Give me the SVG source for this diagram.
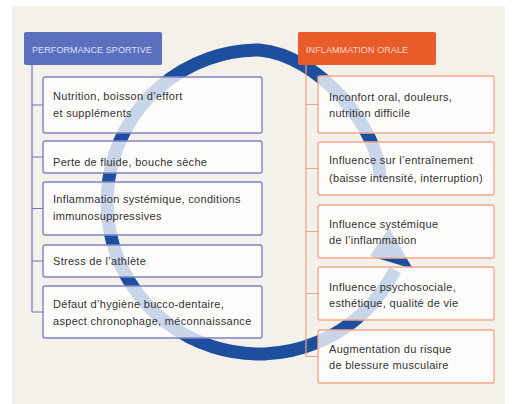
<svg xmlns="http://www.w3.org/2000/svg" width="513" height="404" viewBox="0 0 513 404">
<style>
.bg{fill:#f4f1eb}
.lbox{fill:#ffffff;fill-opacity:0.76;stroke:#7e84c4;stroke-width:1.4}
.rbox{fill:#ffffff;fill-opacity:0.76;stroke:#f2a88a;stroke-width:1.4}
.t{font-family:"Liberation Sans",Arial,sans-serif;font-size:11px;letter-spacing:0.3px;fill:#333333}
.h{font-family:"Liberation Sans",Arial,sans-serif;font-size:9px;letter-spacing:0.1px}
.ll{stroke:#6c74bd;stroke-width:1.2;fill:none}
.rl{stroke:#f0a282;stroke-width:1.2;fill:none}
.ring{stroke:#1e4f9f;stroke-width:13;fill:none}
</style>
<rect class="bg" x="12" y="6" width="493" height="398"/>
<g id="connectors">
  <path class="ring" d="M 380 178 C 380 130, 320 55, 259 50 A 152 152 0 1 0 395 270"/>
  <polygon points="370,256 413,269 389,228" fill="#1e4f9f"/>
  <path class="ll" d="M32 65 V312 M32 105 H43 M32 157 H43 M32 208.5 H43 M32 261 H43 M32 312 H43"/>
  <path class="rl" d="M306 65 V356.5 M306 104.5 H318 M306 168.5 H318 M306 231.5 H318 M306 293.5 H318 M306 356.5 H318"/>
</g>
<g id="header-performance">
  <rect x="24" y="32" width="138" height="33" rx="2" fill="#5b6fbf"/>
  <text class="h" x="32" y="53" fill="#dde3f7">PERFORMANCE SPORTIVE</text>
</g>
<g id="header-inflammation">
  <rect x="298" y="32" width="138" height="33" rx="2" fill="#ea5b2a"/>
  <text class="h" x="306" y="53" fill="#fcd8c6">INFLAMMATION ORALE</text>
</g>
<g id="l1">
  <rect class="lbox" x="43" y="77" width="219" height="56" rx="2"/>
  <text class="t" x="53" y="100">Nutrition, boisson d’effort</text>
  <text class="t" x="53" y="117">et suppléments</text>
</g>
<g id="l2">
  <rect class="lbox" x="43" y="141" width="219" height="32" rx="2"/>
  <text class="t" x="53" y="166">Perte de fluide, bouche sèche</text>
</g>
<g id="l3">
  <rect class="lbox" x="43" y="182" width="219" height="53" rx="2"/>
  <text class="t" x="53" y="203">Inflammation systémique, conditions</text>
  <text class="t" x="53" y="220">immunosuppressives</text>
</g>
<g id="l4">
  <rect class="lbox" x="43" y="245" width="219" height="32" rx="2"/>
  <text class="t" x="53" y="265">Stress de l’athlète</text>
</g>
<g id="l5">
  <rect class="lbox" x="43" y="286" width="219" height="52" rx="2"/>
  <text class="t" x="53" y="308">Défaut d’hygiène bucco-dentaire,</text>
  <text class="t" x="53" y="325">aspect chronophage, méconnaissance</text>
</g>
<g id="r1">
  <rect class="rbox" x="318" y="76" width="176" height="57" rx="2"/>
  <text class="t" x="329" y="101">Inconfort oral, douleurs,</text>
  <text class="t" x="329" y="117">nutrition difficile</text>
</g>
<g id="r2">
  <rect class="rbox" x="318" y="142" width="176" height="53" rx="2"/>
  <text class="t" x="329" y="164">Influence sur l’entraînement</text>
  <text class="t" x="329" y="182">(baisse intensité, interruption)</text>
</g>
<g id="r3">
  <rect class="rbox" x="318" y="205" width="176" height="53" rx="2"/>
  <text class="t" x="329" y="228">Influence systémique</text>
  <text class="t" x="329" y="244">de l’inflammation</text>
</g>
<g id="r4">
  <rect class="rbox" x="318" y="267" width="176" height="53" rx="2"/>
  <text class="t" x="329" y="291">Influence psychosociale,</text>
  <text class="t" x="329" y="307">esthétique, qualité de vie</text>
</g>
<g id="r5">
  <rect class="rbox" x="318" y="330" width="176" height="53" rx="2"/>
  <text class="t" x="329" y="353">Augmentation du risque</text>
  <text class="t" x="329" y="369">de blessure musculaire</text>
</g>
</svg>
